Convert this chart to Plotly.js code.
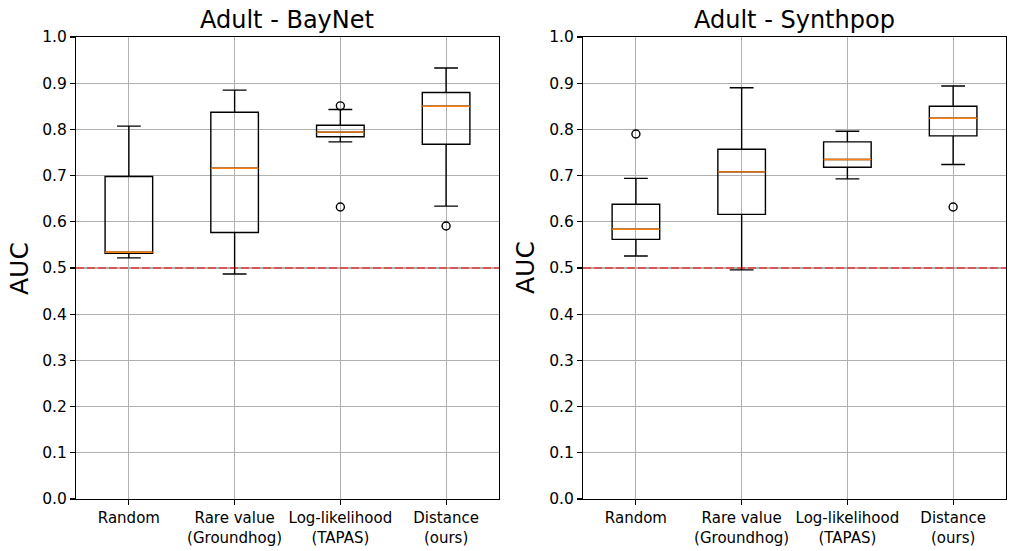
<!DOCTYPE html>
<html>
<head>
<meta charset="utf-8">
<script src="https://cdn.plot.ly/plotly-3.0.1.min.js"></script>
<style>html,body{margin:0;padding:0;background:#fff;}#chart{width:1015px;height:551px;}</style>
</head>
<body>
<div id="chart"></div>
<script>
// ---- data ----
const categories = ['Random', 'Rare value<br>(Groundhog)', 'Log-likelihood<br>(TAPAS)', 'Distance<br>(ours)'];
const positions = [1, 2, 3, 4];
const titles = ['Adult - BayNet', 'Adult - Synthpop'];
const baseline = 0.5;

// Adult - BayNet
const bnLow  = [0.522, 0.487, 0.773, 0.634];
const bnQ1   = [0.532, 0.577, 0.784, 0.768];
const bnMed  = [0.534, 0.716, 0.794, 0.850];
const bnQ3   = [0.698, 0.837, 0.809, 0.880];
const bnHigh = [0.807, 0.885, 0.843, 0.933];
const bnOutX = [3, 3, 4];
const bnOutY = [0.851, 0.632, 0.591];

// Adult - Synthpop
const spLow  = [0.526, 0.496, 0.693, 0.724];
const spQ1   = [0.562, 0.616, 0.718, 0.786];
const spMed  = [0.584, 0.708, 0.735, 0.824];
const spQ3   = [0.638, 0.757, 0.773, 0.850];
const spHigh = [0.694, 0.890, 0.796, 0.894];
const spOutX = [1, 4];
const spOutY = [0.790, 0.632];

// ---- build ----
const boxW = 0.45;
const LW = 1.4;
function boxTrace(low, q1, med, q3, high, xa, ya) {
  return {
    type: 'box', x: positions, q1: q1, median: med, q3: q3,
    lowerfence: low, upperfence: high, boxpoints: false,
    width: boxW, whiskerwidth: 0.5,
    line: {color: 'black', width: LW}, fillcolor: 'rgba(0,0,0,0)',
    xaxis: xa, yaxis: ya, showlegend: false, hoverinfo: 'skip'
  };
}
function medTrace(med, xa, ya) {
  const xs = [], ys = [];
  positions.forEach((p, i) => { xs.push(p - boxW / 2, p + boxW / 2, null); ys.push(med[i], med[i], null); });
  return {type: 'scatter', mode: 'lines', x: xs, y: ys, line: {color: '#ff7f0e', width: LW},
          xaxis: xa, yaxis: ya, showlegend: false, hoverinfo: 'skip'};
}
function outTrace(ox, oy, xa, ya) {
  return {type: 'scatter', mode: 'markers', x: ox, y: oy,
          marker: {symbol: 'circle-open', size: 8, color: 'black', line: {width: LW, color: 'black'}},
          xaxis: xa, yaxis: ya, showlegend: false, hoverinfo: 'skip'};
}

const data = [
  boxTrace(bnLow, bnQ1, bnMed, bnQ3, bnHigh, 'x', 'y'),
  medTrace(bnMed, 'x', 'y'),
  outTrace(bnOutX, bnOutY, 'x', 'y'),
  boxTrace(spLow, spQ1, spMed, spQ3, spHigh, 'x2', 'y2'),
  medTrace(spMed, 'x2', 'y2'),
  outTrace(spOutX, spOutY, 'x2', 'y2')
];

const font = {family: 'DejaVu Sans', color: 'black'};
function xAxis(domain, anchor) {
  return {domain: domain, anchor: anchor, range: [0.5, 4.5], tickvals: positions, ticktext: categories,
          showgrid: true, gridcolor: '#b0b0b0', gridwidth: 1.1, zeroline: false,
          showline: true, mirror: true, linecolor: 'black', linewidth: 1.1,
          ticks: 'outside', ticklen: 5, tickwidth: 1.1, tickcolor: 'black',
          tickfont: {family: 'DejaVu Sans', size: 15, color: 'black'}, fixedrange: true};
}
function yAxis(anchor) {
  return {domain: [0, 1], anchor: anchor, range: [0, 1.0], dtick: 0.1, tick0: 0, tickformat: '.1f',
          showgrid: true, gridcolor: '#b0b0b0', gridwidth: 1.1, zeroline: false,
          showline: true, mirror: true, linecolor: 'black', linewidth: 1.1,
          ticks: 'outside', ticklen: 5, tickwidth: 1.1, tickcolor: 'black',
          tickfont: {family: 'DejaVu Sans', size: 15.5, color: 'black'}, fixedrange: true};
}

const layout = {
  width: 1015, height: 551,
  margin: {l: 76, r: 9, t: 37, b: 52},
  paper_bgcolor: 'white', plot_bgcolor: 'white',
  font: font, showlegend: false,
  xaxis: xAxis([0, 0.4548], 'y'),
  yaxis: yAxis('x'),
  xaxis2: xAxis([0.5452, 1], 'y2'),
  yaxis2: yAxis('x2'),
  shapes: [
    {type: 'line', xref: 'x domain', yref: 'y', x0: 0, x1: 1, y0: baseline, y1: baseline,
     line: {color: 'rgba(255,0,0,0.5)', width: 2, dash: '8px,3px'}},
    {type: 'line', xref: 'x2 domain', yref: 'y2', x0: 0, x1: 1, y0: baseline, y1: baseline,
     line: {color: 'rgba(255,0,0,0.5)', width: 2, dash: '8px,3px'}}
  ],
  annotations: [
    {text: titles[0], xref: 'paper', yref: 'paper', x: 0.2274, y: 1, xanchor: 'center', yanchor: 'bottom', yshift: 1,
     showarrow: false, font: {family: 'DejaVu Sans', size: 24, color: 'black'}},
    {text: titles[1], xref: 'paper', yref: 'paper', x: 0.7726, y: 1, xanchor: 'center', yanchor: 'bottom', yshift: 1,
     showarrow: false, font: {family: 'DejaVu Sans', size: 24, color: 'black'}},
    {text: 'AUC', xref: 'paper', yref: 'paper', x: -0.0613, y: 0.5, xanchor: 'center', yanchor: 'middle', textangle: -90,
     showarrow: false, font: {family: 'DejaVu Sans', size: 25, color: 'black'}},
    {text: 'AUC', xref: 'paper', yref: 'paper', x: 0.4828, y: 0.5, xanchor: 'center', yanchor: 'middle', textangle: -90,
     showarrow: false, font: {family: 'DejaVu Sans', size: 25, color: 'black'}}
  ]
};

Plotly.newPlot('chart', data, layout, {staticPlot: true, displayModeBar: false});
</script>
</body>
</html>
